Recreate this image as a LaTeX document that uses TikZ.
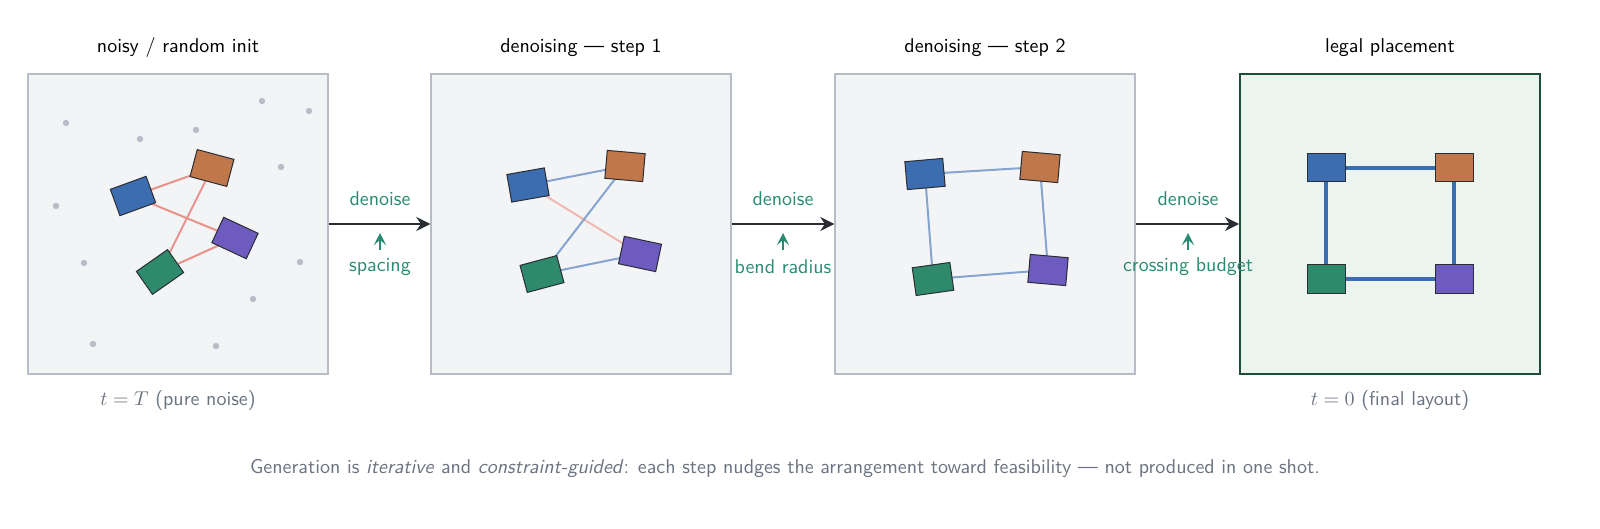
\documentclass[tikz,border=0pt]{standalone}
\usetikzlibrary{arrows.meta,backgrounds}
\definecolor{cb}{HTML}{3B6DB0}\definecolor{co}{HTML}{C0784A}
\definecolor{cp}{HTML}{6E5BC0}\definecolor{cg}{HTML}{2E8A6A}
\definecolor{teal}{HTML}{2A8A72}\definecolor{pf}{HTML}{F3F4F6}
\definecolor{pb}{HTML}{B8BCC6}\definecolor{ff}{HTML}{ECF4F0}
\definecolor{fb}{HTML}{1E4D3A}\definecolor{gt}{HTML}{6B7280}
\definecolor{dk}{HTML}{2A2D34}\definecolor{pk}{HTML}{E8928A}
\definecolor{lb}{HTML}{86A4D0}\definecolor{lp}{HTML}{F0B8B2}
\begin{document}%
\begin{tikzpicture}[x=0.5pt,y=-0.5pt,font=\sffamily,
 panel/.style={draw=pb,fill=pf,line width=0.7pt,minimum size=150pt,inner sep=0},
 blk/.style={draw=dk,line width=0.5pt,minimum width=19pt,minimum height=14pt,inner sep=0},
 dot/.style={circle,fill=pb,inner sep=0,minimum size=3.2pt},
 ttl/.style={font=\sffamily\fontsize{10}{12}\selectfont},
 lab/.style={font=\sffamily\fontsize{10}{12}\selectfont,text=teal},
 bot/.style={font=\sffamily\fontsize{10}{12}\selectfont,text=gt},
 arr/.style={-{Stealth[length=7pt,width=7pt]},draw=dk,line width=1.2pt},
 guide/.style={-{Stealth[length=6pt,width=6pt,inset=2.5pt]},draw=teal,line width=0.8pt},
 e1/.style={pk,line width=1pt}, e2/.style={lb,line width=1pt},
 e3/.style={lp,line width=1pt}, e4/.style={cb,line width=1.6pt}]
\useasboundingbox (0,0) rectangle (1600,529);
\node[ttl] (t1) at (178,48) {noisy / random init};
\node[ttl] (t2) at (581,48) {denoising --- step 1};
\node[ttl] (t3) at (985,48) {denoising --- step 2};
\node[ttl] (t4) at (1390,48) {legal placement};
\node[bot] (bt1) at (178,400) {$t=T$ (pure noise)};
\node[bot] (bt4) at (1390,400) {$t=0$ (final layout)};
\node[bot] (cap) at (785,468) {Generation is \textit{iterative} and \textit{constraint-guided}: each step nudges the arrangement toward feasibility --- not produced in one shot.};
% blocks
\node[blk,fill=cb,rotate=20] (a1) at (133,196) {};
\node[blk,fill=co,rotate=-15] (a2) at (212,168) {};
\node[blk,fill=cp,rotate=-25] (a3) at (235,238) {};
\node[blk,fill=cg,rotate=35] (a4) at (160,272) {};
\node[blk,fill=cb,rotate=10] (b1b) at (528,185) {};
\node[blk,fill=co,rotate=-5] (b2) at (625,166) {};
\node[blk,fill=cg,rotate=15] (b3) at (542,274) {};
\node[blk,fill=cp,rotate=-12] (b4b) at (640,254) {};
\node[blk,fill=cb,rotate=5] (c1) at (925,174) {};
\node[blk,fill=co,rotate=-5] (c2) at (1040,167) {};
\node[blk,fill=cg,rotate=8] (c3) at (933,279) {};
\node[blk,fill=cp,rotate=-5] (c4) at (1048,270) {};
\node[blk,fill=cb] (f1) at (1326,168) {};
\node[blk,fill=co] (f2) at (1454,168) {};
\node[blk,fill=cg] (f3) at (1326,279) {};
\node[blk,fill=cp] (f4) at (1454,279) {};
\begin{scope}[on background layer]
\node[panel] (p1) at (178,224) {};
\node[panel] (p2) at (581,224) {};
\node[panel] (p3) at (985,224) {};
\node[panel,draw=fb,fill=ff,line width=1pt] (p4) at (1390,224) {};
\foreach \i/\x/\y in {1/66/123,2/140/139,3/196/130,4/262/101,5/309/111,6/281/167,7/56/206,8/84/263,9/300/262,10/253/299,11/93/344,12/216/346}
  \node[dot] (d\i) at (\x,\y) {};
\draw[e1] (a1.center) -- (a2.center); \draw[e1] (a1.center) -- (a3.center);
\draw[e1] (a2.center) -- (a4.center); \draw[e1] (a4.center) -- (a3.center);
\draw[e3] (b1b.center) -- (b4b.center); \draw[e2] (b1b.center) -- (b2.center);
\draw[e2] (b2.center) -- (b3.center); \draw[e2] (b3.center) -- (b4b.center);
\draw[e2] (c1.center) -- (c2.center); \draw[e2] (c2.center) -- (c4.center);
\draw[e2] (c4.center) -- (c3.center); \draw[e2] (c3.center) -- (c1.center);
\draw[e4] (f1.center) -- (f2.center); \draw[e4] (f2.center) -- (f4.center);
\draw[e4] (f4.center) -- (f3.center); \draw[e4] (f3.center) -- (f1.center);
\end{scope}
% arrows
\draw[arr] (p1.east) -- (p2.west);
\draw[arr] (p2.east) -- (p3.west);
\draw[arr] (p3.east) -- (p4.west);
\foreach \k/\x/\t in {1/380/spacing,2/783/bend radius,3/1188/crossing budget}{
  \node[lab] (dn\k) at (\x,199) {denoise};
  \node[lab] (cn\k) at (\x,267) {\t};
  \coordinate (gs\k) at (\x,250);
  \coordinate (ge\k) at (\x,233);
  \draw[guide] (gs\k) -- (ge\k);
}
\end{tikzpicture}%
\end{document}
